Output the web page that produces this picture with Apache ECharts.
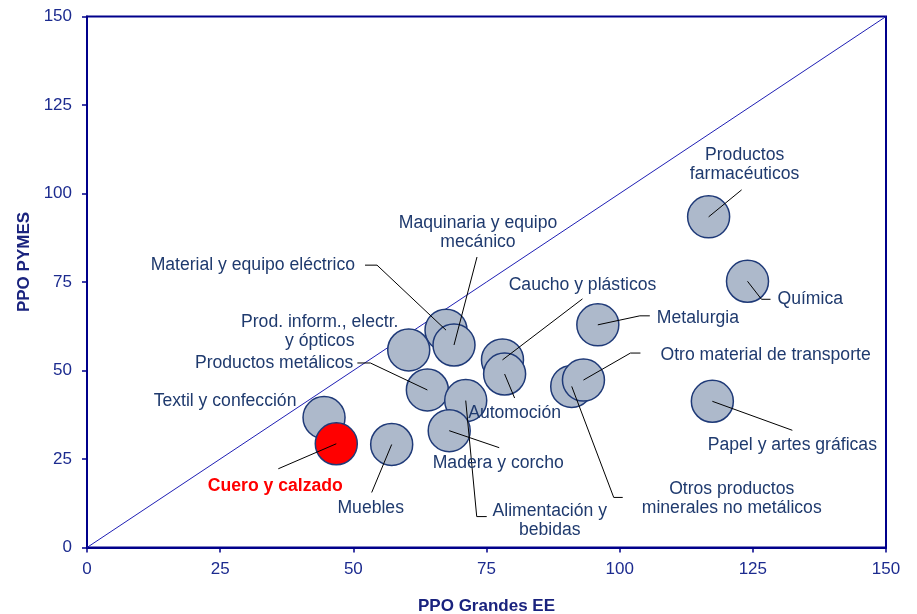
<!DOCTYPE html>
<html>
<head>
<meta charset="utf-8">
<script src="https://cdn.jsdelivr.net/npm/echarts@6/dist/echarts.min.js"></script>
<style>
html,body{margin:0;padding:0;background:#fff;}
#chart{width:917px;height:614px;}
</style>
</head>
<body>
<div id="chart"></div>
<script>
// ---- data ----
const sectors = [
  'Productos\nfarmacéuticos',
  'Química',
  'Metalurgia',
  'Otros productos\nminerales no metálicos',
  'Otro material de transporte',
  'Papel y artes gráficas',
  'Caucho y plásticos',
  'Automoción',
  'Material y equipo eléctrico',
  'Maquinaria y equipo\nmecánico',
  'Prod. inform., electr.\ny ópticos',
  'Productos metálicos',
  'Alimentación y\nbebidas',
  'Madera y corcho',
  'Textil y confección',
  'Cuero y calzado',
  'Muebles'
];
const ppoGrandes = [116.7, 124.0, 95.9, 91.0, 93.2, 117.4, 78.0, 78.4, 67.4, 68.9, 60.4, 63.9, 71.1, 68.0, 44.5, 46.8, 57.2];
const ppoPymes   = [93.4, 75.2, 62.9, 45.5, 47.3, 41.3, 53.0, 49.0, 61.4, 57.2, 55.8, 44.5, 41.5, 33.0, 36.7, 29.3, 29.1];
const highlighted = 'Cuero y calzado';
const diagonal = [[0, 0], [150, 150]];
const xTicks = [0, 25, 50, 75, 100, 125, 150];
const yTicks = [0, 25, 50, 75, 100, 125, 150];

// ---- label layout (pixel offsets from bubble centre) ----
const labelLayout = [
  {t: [36, -52], align: 'center', line: [[33, -27]]},
  {t: [30, 18], align: 'left', line: [[14, 18], [23, 18]]},
  {t: [59, -7], align: 'left', line: [[42, -9], [52, -9]]},
  {t: [160, 112], align: 'center', line: [[42, 111], [51, 111]]},
  {t: [77, -25], align: 'left', line: [[47, -27], [57, -27]]},
  {t: [80, 44], align: 'center', line: [[80, 29]]},
  {t: [80, -75], align: 'center', line: [[80, -61]]},
  {t: [10, 39], align: 'center', line: [[10, 24]]},
  {t: [-91, -65], align: 'right', line: [[-69, -65], [-81, -65]]},
  {t: [24, -112], align: 'center', line: [[23, -88]]},
  {t: [-89, -18], align: 'center', line: null},
  {t: [-74, -27], align: 'right', line: [[-57, -27], [-70, -27]]},
  {t: [84, 120], align: 'center', line: [[11, 116], [21, 116]]},
  {t: [49, 32], align: 'center', line: [[50, 17]]},
  {t: [-99, -16], align: 'center', line: null},
  {t: [-61, 42], align: 'center', line: [[-58, 25]]},
  {t: [-21, 64], align: 'center', line: [[-20, 48]]}
];

const FONT = '"Liberation Sans", Arial, sans-serif';
const navy = '#1a237e';
const labelColor = '#1f3a6e';

const points = sectors.map((s, i) => [ppoGrandes[i], ppoPymes[i], s]);

const chart = echarts.init(document.getElementById('chart'), null, {renderer: 'canvas'});
chart.setOption({
  animation: false,
  backgroundColor: '#fff',
  grid: {left: 87, right: 31, top: 16.5, bottom: 66.5, containLabel: false, outerBoundsMode: 'none',
         show: true, borderColor: '#00008b', borderWidth: 2, backgroundColor: 'transparent'},
  xAxis: {
    type: 'value', min: xTicks[0], max: xTicks[xTicks.length - 1], interval: 25,
    name: 'PPO Grandes EE', nameLocation: 'middle', nameGap: 50,
    nameTextStyle: {fontFamily: FONT, fontWeight: 'bold', fontSize: 17, color: navy},
    axisLine: {show: true, lineStyle: {color: '#00008b', width: 2}},
    axisTick: {show: true, length: 5, lineStyle: {color: '#00008b', width: 1.5}},
    axisLabel: {fontFamily: FONT, fontSize: 17, color: '#1c2b8f', margin: 13},
    splitLine: {show: false}
  },
  yAxis: {
    type: 'value', min: yTicks[0], max: yTicks[yTicks.length - 1], interval: 25,
    name: 'PPO PYMES', nameLocation: 'middle', nameGap: 52,
    nameTextStyle: {fontFamily: FONT, fontWeight: 'bold', fontSize: 17, color: navy, padding: [0, 0, 0, 40]},
    axisLine: {show: true, lineStyle: {color: '#00008b', width: 2}},
    axisTick: {show: true, length: 5, lineStyle: {color: '#00008b', width: 1.5}},
    axisLabel: {fontFamily: FONT, fontSize: 17, color: '#1c2b8f', margin: 15},
    splitLine: {show: false}
  },
  series: [
    {
      type: 'line', data: diagonal, symbol: 'none', z: 1,
      lineStyle: {color: '#1f1fb4', width: 1}, silent: true
    },
    {
      type: 'scatter', data: points, symbolSize: 42, z: 2,
      itemStyle: {
        color: p => p.data[2] === highlighted ? '#ff0000' : '#adb9cb',
        borderColor: '#1f3a78', borderWidth: 1.5, opacity: 1
      }
    },
    {
      type: 'custom', data: points, z: 3, silent: true,
      renderItem: function (params, api) {
        const i = params.dataIndex;
        const c = api.coord([api.value(0), api.value(1)]);
        const L = labelLayout[i];
        const children = [];
        if (L.line) {
          const pts = [[c[0], c[1]]].concat(L.line.map(p => [c[0] + p[0], c[1] + p[1]]));
          children.push({type: 'polyline', shape: {points: pts}, style: {stroke: '#000', lineWidth: 1, fill: null}});
        }
        const hl = sectors[i] === highlighted;
        children.push({
          type: 'text',
          style: {
            text: sectors[i], x: c[0] + L.t[0], y: c[1] + L.t[1],
            align: L.align, verticalAlign: 'middle',
            fontFamily: FONT, fontSize: 17.6, fontWeight: hl ? 'bold' : 'normal',
            lineHeight: 19, fill: hl ? '#ff0000' : labelColor
          }
        });
        return {type: 'group', children: children};
      }
    }
  ]
});
</script>
</body>
</html>
